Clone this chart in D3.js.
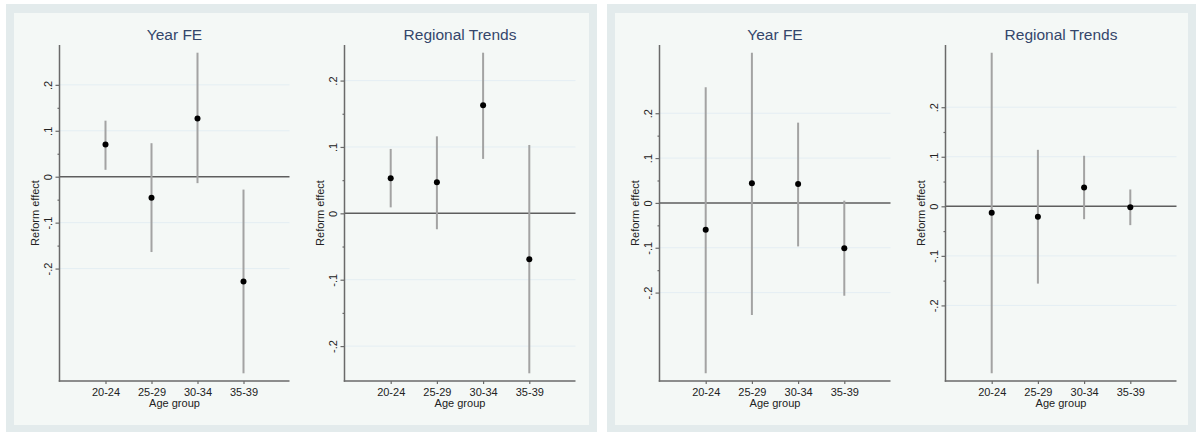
<!DOCTYPE html>
<html>
<head>
<meta http-equiv="Content-type" content="text/html; charset=utf-8">
<title>Reform effect by age group</title>
<script src="https://cdn.jsdelivr.net/npm/d3@7"></script>
<style>
  body { margin: 0; background: #fff; }
  text { font-family: "Liberation Sans", Arial, sans-serif; }
</style>
</head>
<body>
<script type="text/javascript">

  // categories and labels
  var ageGroups = ["20-24", "25-29", "30-34", "35-39"];
  var panelTitles = ["Year FE", "Regional Trends", "Year FE", "Regional Trends"];
  var yTickValues = [-0.2, -0.1, 0, 0.1, 0.2];
  var yMinorTicks = [-0.15, -0.05, 0.05, 0.15];

  // point estimates and CI bounds, one set per panel
  var est1 = [0.070, -0.046, 0.127, -0.228];
  var lo1  = [0.015, -0.164, -0.014, -0.428];
  var hi1  = [0.122, 0.073, 0.270, -0.028];

  var est2 = [0.053, 0.047, 0.163, -0.069];
  var lo2  = [0.009, -0.024, 0.082, -0.241];
  var hi2  = [0.097, 0.116, 0.242, 0.103];

  var est3 = [-0.060, 0.044, 0.042, -0.101];
  var lo3  = [-0.380, -0.250, -0.097, -0.207];
  var hi3  = [0.258, 0.335, 0.179, 0.005];

  var est4 = [-0.013, -0.021, 0.038, -0.002];
  var lo4  = [-0.337, -0.156, -0.026, -0.038];
  var hi4  = [0.310, 0.114, 0.102, 0.034];

  var panels = [
    {est: est1, lo: lo1, hi: hi1},
    {est: est2, lo: lo2, hi: hi2},
    {est: est3, lo: lo3, hi: hi3},
    {est: est4, lo: lo4, hi: hi4}
  ];

  // layout
  var W = 1196, H = 432;
  var axisLeft  = [59.5, 344.5, 659.5, 945.5];
  var axisRight = [289.5, 575.5, 890.5, 1176.5];
  var axisTop = 45, axisBottom = 381;
  var dataTop = 52.7, dataBottom = 373.3;

  var svg = d3.select("body").append("svg")
      .attr("width", W).attr("height", H);

  // two graph backgrounds
  var boxes = [{x0: 6, x1: 597}, {x0: 607, x1: 1196}];
  boxes.forEach(function(b) {
    svg.append("rect").attr("x", b.x0).attr("y", 4)
       .attr("width", b.x1 - b.x0).attr("height", H - 4)
       .attr("fill", "#e3ebec");
    svg.append("rect").attr("x", b.x0 + 8).attr("y", 13)
       .attr("width", b.x1 - b.x0 - 16).attr("height", 412)
       .attr("fill", "#f4f8f6");
  });

  function fmt(v) {
    if (Math.abs(v) < 1e-9) return "0";
    return (v < 0 ? "-" : "") + String(Math.abs(v)).replace(/^0/, "");
  }

  panels.forEach(function(p, k) {
    var L = axisLeft[k], R = axisRight[k];

    var x = d3.scaleLinear().domain([0, 5]).range([L, R]);
    var y = d3.scaleLinear()
        .domain([d3.min(p.lo), d3.max(p.hi)])
        .range([dataBottom, dataTop]);

    var g = svg.append("g");

    // gridlines
    g.selectAll(".grid").data(yTickValues.filter(function(v){ return v !== 0; }))
      .enter().append("line")
      .attr("x1", L).attr("x2", R)
      .attr("y1", function(d){ return y(d); }).attr("y2", function(d){ return y(d); })
      .attr("stroke", "#e4eef3").attr("stroke-width", 1);

    // zero line
    g.append("line")
      .attr("x1", L).attr("x2", R)
      .attr("y1", y(0)).attr("y2", y(0))
      .attr("stroke", "#5e5e5e").attr("stroke-width", 1.5);

    // y axis
    var ya = g.append("g").attr("transform", "translate(" + L + ",0)")
      .call(d3.axisLeft(y).tickValues(yTickValues).tickFormat(fmt).tickSize(4).tickSizeOuter(0));
    ya.select(".domain").remove();
    ya.selectAll("line").attr("stroke", "#6a6a6a").attr("stroke-width", 1.2);
    ya.selectAll("text")
      .attr("x", null).attr("dy", null)
      .attr("text-anchor", "middle")
      .attr("transform", "translate(-8,0) rotate(-90)")
      .attr("font-size", 11).attr("fill", "#222")
      .style("font-family", "'Liberation Sans', Arial, sans-serif");

    var ym = g.append("g").attr("transform", "translate(" + L + ",0)")
      .call(d3.axisLeft(y).tickValues(yMinorTicks).tickFormat("").tickSize(2).tickSizeOuter(0));
    ym.select(".domain").remove();
    ym.selectAll("line").attr("stroke", "#6a6a6a").attr("stroke-width", 1.2);

    // x axis
    var xa = g.append("g").attr("transform", "translate(0," + axisBottom + ")")
      .call(d3.axisBottom(x).tickValues([1, 2, 3, 4])
        .tickFormat(function(i){ return ageGroups[i - 1]; })
        .tickSize(3).tickSizeOuter(0));
    xa.select(".domain").remove();
    xa.selectAll("line").attr("stroke", "#6a6a6a").attr("stroke-width", 1.2);
    xa.selectAll("text").attr("y", 7)
      .attr("font-size", 11).attr("fill", "#222")
      .style("font-family", "'Liberation Sans', Arial, sans-serif");

    // axis lines
    g.append("line").attr("x1", L).attr("x2", L)
      .attr("y1", axisTop).attr("y2", axisBottom + 0.75)
      .attr("stroke", "#6a6a6a").attr("stroke-width", 1.5);
    g.append("line").attr("x1", L - 0.75).attr("x2", R)
      .attr("y1", axisBottom).attr("y2", axisBottom)
      .attr("stroke", "#6a6a6a").attr("stroke-width", 1.5);

    // confidence intervals
    var idx = d3.range(ageGroups.length);
    g.selectAll(".ci").data(idx).enter().append("line")
      .attr("x1", function(i){ return x(i + 1); })
      .attr("x2", function(i){ return x(i + 1); })
      .attr("y1", function(i){ return y(p.lo[i]); })
      .attr("y2", function(i){ return y(p.hi[i]); })
      .attr("stroke", "#a3a3a3").attr("stroke-width", 2);

    // point estimates
    g.selectAll(".pt").data(idx).enter().append("circle")
      .attr("cx", function(i){ return x(i + 1); })
      .attr("cy", function(i){ return y(p.est[i]); })
      .attr("r", 3).attr("fill", "#000");

    // titles
    g.append("text").attr("x", (L + R) / 2).attr("y", 40)
      .attr("text-anchor", "middle").attr("font-size", 15.5)
      .attr("fill", "#34466b").text(panelTitles[k]);

    g.append("text").attr("x", (L + R) / 2).attr("y", 407)
      .attr("text-anchor", "middle").attr("font-size", 11)
      .attr("fill", "#222").text("Age group");

    g.append("text")
      .attr("transform", "translate(" + (L - 21) + "," + ((axisTop + axisBottom) / 2) + ") rotate(-90)")
      .attr("text-anchor", "middle").attr("font-size", 11)
      .attr("fill", "#222").text("Reform effect");
  });

</script>
</body>
</html>
